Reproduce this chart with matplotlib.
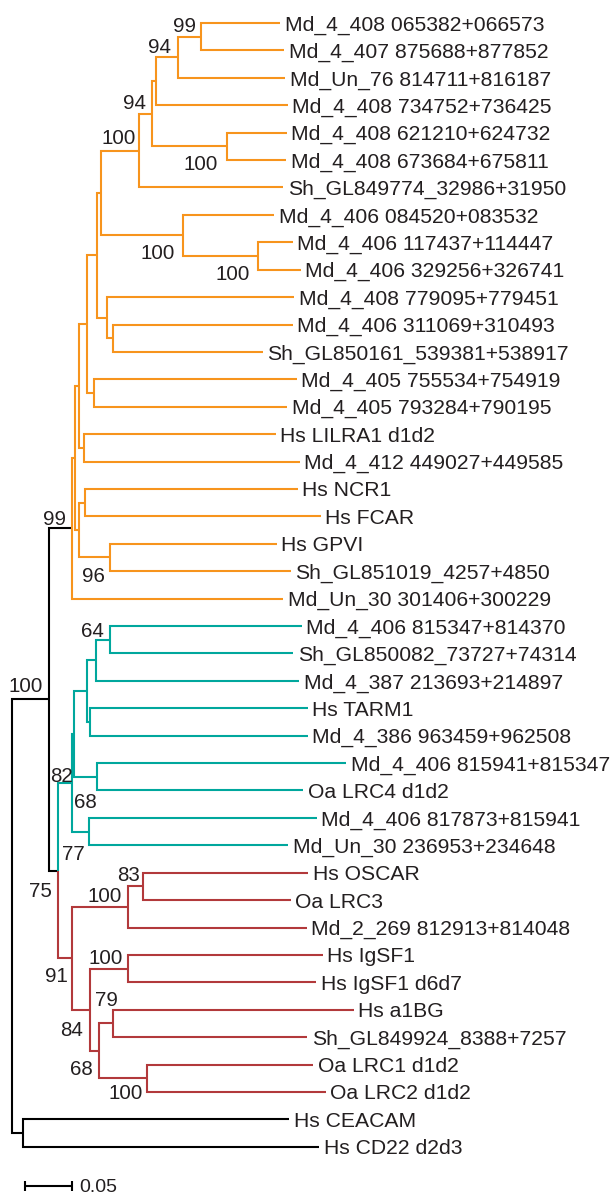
import matplotlib
matplotlib.use("Agg")
import matplotlib.pyplot as plt

# ---------------- data ----------------
leaf_names = [
    "Md_4_408 065382+066573", "Md_4_407 875688+877852", "Md_Un_76 814711+816187",
    "Md_4_408 734752+736425", "Md_4_408 621210+624732", "Md_4_408 673684+675811",
    "Sh_GL849774_32986+31950", "Md_4_406 084520+083532", "Md_4_406 117437+114447",
    "Md_4_406 329256+326741", "Md_4_408 779095+779451", "Md_4_406 311069+310493",
    "Sh_GL850161_539381+538917", "Md_4_405 755534+754919", "Md_4_405 793284+790195",
    "Hs LILRA1 d1d2", "Md_4_412 449027+449585", "Hs NCR1", "Hs FCAR", "Hs GPVI",
    "Sh_GL851019_4257+4850", "Md_Un_30 301406+300229",
    "Md_4_406 815347+814370", "Sh_GL850082_73727+74314", "Md_4_387 213693+214897",
    "Hs TARM1", "Md_4_386 963459+962508", "Md_4_406 815941+815347", "Oa LRC4 d1d2",
    "Md_4_406 817873+815941", "Md_Un_30 236953+234648",
    "Hs OSCAR", "Oa LRC3", "Md_2_269 812913+814048", "Hs IgSF1", "Hs IgSF1 d6d7",
    "Hs a1BG", "Sh_GL849924_8388+7257", "Oa LRC1 d1d2", "Oa LRC2 d1d2",
    "Hs CEACAM", "Hs CD22 d2d3",
]
leaf_parent = [
    "n99", "n99", "n94a", "C", "n100a", "n100a", "E", "G", "H", "H",
    "J", "K", "K", "M", "M", "O", "O", "S", "S", "T", "T", "Q",
    "n64", "n64", "Y", "Z", "Z", "X", "X", "V", "V",
    "n83", "n83", "AA", "nIg", "nIg", "n79", "n79", "nLRC", "nLRC",
    "Out", "Out",
]
leaf_length = [
    0.0846, 0.0889, 0.1146, 0.1410, 0.0639, 0.0632, 0.1539, 0.0974, 0.0372, 0.0460,
    0.2002, 0.1927, 0.1606, 0.2165, 0.2064, 0.2047, 0.2307, 0.2277, 0.2527, 0.1785,
    0.1938, 0.2259,
    0.2052, 0.1963, 0.2177, 0.2331, 0.2331, 0.2666, 0.2209, 0.2438, 0.2134,
    0.1770, 0.1581, 0.1913, 0.2085, 0.2013, 0.2580, 0.2080, 0.1781, 0.1916,
    0.2848, 0.3169,
]

node_names = ["root", "A", "Out", "Q", "B", "P", "N", "R", "L", "O", "I", "M",
              "F", "J", "K", "E", "G", "H", "D", "C", "n100a", "n94a", "n99",
              "S", "T", "Teal", "Red", "U", "V", "W", "X", "Y", "Z", "n64",
              "AA", "n83", "BB", "nIg", "CC", "n79", "nLRC"]
node_parent = [None, "root", "root", "A", "A", "Q", "P", "P", "N", "N", "L", "L",
               "I", "I", "J", "F", "F", "G", "E", "D", "D", "C", "n94a",
               "R", "R", "B", "B", "Teal", "Teal", "U", "U", "W", "W", "Y",
               "Red", "AA", "Red", "BB", "BB", "CC", "CC"]
node_length = [0.0, 0.0393, 0.0115, 0.0249, 0.0096, 0.0029, 0.0046, 0.0046, 0.0088,
               0.0056, 0.0099, 0.0075, 0.0043, 0.0113, 0.0058, 0.0413, 0.0881,
               0.0803, 0.0133, 0.0046, 0.0806, 0.0236, 0.0246, 0.0061, 0.0329,
               0.0147, 0.0147, 0.0025, 0.0185, 0.0136, 0.0246, 0.0100, 0.0035,
               0.0150, 0.0603, 0.0161, 0.0196, 0.0407, 0.0096, 0.0150, 0.0514]
node_support = {
    "A": 100, "Q": 99, "B": 75, "n99": 99, "n94a": 94, "C": None, "D": 94,
    "n100a": 100, "E": 100, "G": 100, "H": 100, "T": 96,
    "Teal": 82, "n64": 64, "X": 68, "V": 77,
    "Red": 91, "AA": 100, "n83": 83, "nIg": 100, "BB": 84, "n79": 79,
    "CC": 68, "nLRC": 100,
}
scale_value = 0.05
scale_label = "0.05"

# ---------------- style / layout ----------------
ORANGE = "#F7941D"
TEAL = "#00A79D"
RED = "#B2393B"
BLACK = "#000000"
TEXT = "#231F20"
# clade colouring: (colour, include the stem branch)
clade_tops = {"Q": (ORANGE, False), "Teal": (TEAL, True), "Red": (RED, True)}
# support label offsets (px): dx to right edge, dy of text centre, from node
label_offsets = {
    "n99": (-5, -12.5), "n94a": (-7, -11.5), "D": (-5.7, -11.8),
    "n100a": (-9, 16.5), "E": (-3.3, -14.5), "G": (-8, 16), "H": (-8, 17),
    "T": (-5, 17.5), "Q": (-6, -10.5), "A": (-6, -15), "Teal": (1, -8.5),
    "n64": (-6, -10.5), "X": (0, 24), "V": (-4, 20.5), "B": (-6, 18.5),
    "Red": (-4, 16), "AA": (-6, -12), "n83": (-3, -12.5), "nIg": (-5, -12.5),
    "BB": (-7, 18.5), "n79": (5, -24.5), "CC": (-6, 17), "nLRC": (-4, 13),
}

W, H, DPI = 612, 1196, 100
PX_PER_UNIT = 934.0
ROOT_PX = 12.3
TOP_PX, ROW_PX = 23.0, 27.41

plt.rcParams["font.family"] = ["Liberation Sans", "DejaVu Sans"]
fig = plt.figure(figsize=(W / DPI, H / DPI), dpi=DPI)
ax = fig.add_axes([0, 0, 1, 1])
ax.set_xlim(-ROOT_PX / PX_PER_UNIT, (W - ROOT_PX) / PX_PER_UNIT)
ax.set_ylim((H - TOP_PX) / ROW_PX, -TOP_PX / ROW_PX)
ax.axis("off")

# ---------------- tree geometry ----------------
parent = {}
length = {}
children = {}
for n, p, l in zip(node_names, node_parent, node_length):
    parent[n] = p
    length[n] = l
    if p is not None:
        children.setdefault(p, []).append(n)
for i, (n, p, l) in enumerate(zip(leaf_names, leaf_parent, leaf_length)):
    key = ("leaf", i)
    parent[key] = p
    length[key] = l
    children.setdefault(p, []).append(key)

depth = {}
def get_depth(n):
    if n in depth:
        return depth[n]
    p = parent[n]
    d = 0.0 if p is None else get_depth(p) + length[n]
    depth[n] = d
    return d

ypos = {}
def get_y(n):
    if n in ypos:
        return ypos[n]
    if isinstance(n, tuple):
        y = float(n[1])
    else:
        ys = [get_y(c) for c in children[n]]
        y = (min(ys) + max(ys)) / 2.0
    ypos[n] = y
    return y

def color_of(n):
    # colour of the branch leading into n
    cur = n
    first = True
    while cur is not None:
        if cur in clade_tops:
            col, incl = clade_tops[cur]
            if incl or not first:
                return col
        first = False
        cur = parent[cur]
    return BLACK

all_nodes = list(parent.keys())
for n in all_nodes:
    get_depth(n)
    get_y(n)

LW = 1.5
for n in all_nodes:
    p = parent[n]
    if p is None:
        continue
    xp, yp = depth[p], ypos[p]
    xc, yc = depth[n], ypos[n]
    ax.plot([xp, xp, xc], [yp, yc, yc], color=color_of(n), lw=LW,
            solid_joinstyle="miter", solid_capstyle="butt", zorder=2)

# leaf labels
for i, name in enumerate(leaf_names):
    key = ("leaf", i)
    ax.annotate(name, (depth[key], ypos[key]), xytext=(4.5 * 0.72, 0),
                textcoords="offset points", ha="left", va="center_baseline",
                fontsize=15.2, color=TEXT)

# support values
for n, s in node_support.items():
    if s is None:
        continue
    dx, dy = label_offsets[n]
    ax.annotate(str(s), (depth[n], ypos[n]), xytext=(dx * 0.72, -dy * 0.72),
                textcoords="offset points", ha="right", va="center_baseline",
                fontsize=14.8, color=TEXT)

# scale bar
sb_x0 = (25 - ROOT_PX) / PX_PER_UNIT
sb_y = (1185.5 - TOP_PX) / ROW_PX
tick = 5 / ROW_PX
ax.plot([sb_x0, sb_x0 + scale_value], [sb_y, sb_y], color=BLACK, lw=1.5,
        solid_capstyle="butt")
for xx in (sb_x0, sb_x0 + scale_value):
    ax.plot([xx, xx], [sb_y - tick, sb_y + tick], color=BLACK, lw=1.5,
            solid_capstyle="butt")
ax.annotate(scale_label, (sb_x0 + scale_value, sb_y), xytext=(8 * 0.72, 0),
            textcoords="offset points", ha="left", va="center_baseline",
            fontsize=14, color=TEXT)

fig.savefig("out.png", dpi=DPI, facecolor="white")
